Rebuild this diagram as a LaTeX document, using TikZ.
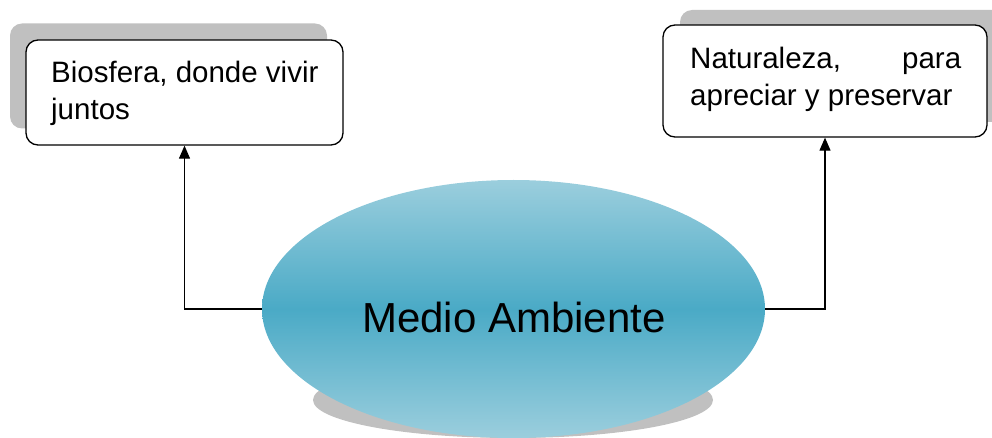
\documentclass[tikz,border=0pt]{standalone}
\usepackage{fontspec}
\setmainfont{Liberation Sans}
\usetikzlibrary{shapes.geometric,arrows.meta}
\definecolor{shadowgray}{RGB}{192,192,192}
\definecolor{elltop}{RGB}{155,206,221}
\definecolor{ellmid}{RGB}{74,170,198}
\begin{document}
\begin{tikzpicture}[x=1pt,y=-1pt,
  shadowbox/.style={rectangle, rounded corners=12pt, fill=shadowgray, inner sep=0pt},
  box/.style={rectangle, rounded corners=12pt, draw=black, line width=1.3pt, fill=white, inner sep=0pt},
  txt/.style={inner sep=0pt, font=\fontsize{29.5}{37}\selectfont},
  conn/.style={draw=black, line width=1.1pt, -{Triangle[length=13pt,width=11pt]}}]
\clip (0,0) rectangle (992,438);
% left box
\node[shadowbox, minimum width=317pt, minimum height=105pt] (s1) at (168.5,76) {};
\node[box, minimum width=317pt, minimum height=105pt] (b1) at (184.5,92.5) {};
\node[txt, anchor=base west] (t1) at (51,83) {\parbox[t]{290pt}{Biosfera, donde vivir\\juntos}};
% right box
\node[shadowbox, minimum width=324pt, minimum height=112pt] (s2) at (842,66) {};
\node[box, minimum width=324pt, minimum height=112pt] (b2) at (825,81) {};
\node[txt, anchor=base west] (t2) at (690,68.5) {\parbox[t]{271pt}{Naturaleza,\hfill para\\apreciar y preservar}};
% ellipse
\node[ellipse, fill=shadowgray, minimum width=400pt, minimum height=76pt, inner sep=0pt] (es) at (513,400) {};
\node[ellipse, minimum width=503pt, minimum height=258pt, inner sep=0pt,
      top color=elltop, bottom color=elltop, middle color=ellmid] (env) at (513.5,309) {};
\node[inner sep=0pt, anchor=base, font=\fontsize{42}{50}\selectfont] (tm) at (514,332) {Medio Ambiente};
% connectors
\draw[conn] (env.west) -| (b1.south);
\draw[conn] (env.east) -| (b2.south);
\end{tikzpicture}
\end{document}
